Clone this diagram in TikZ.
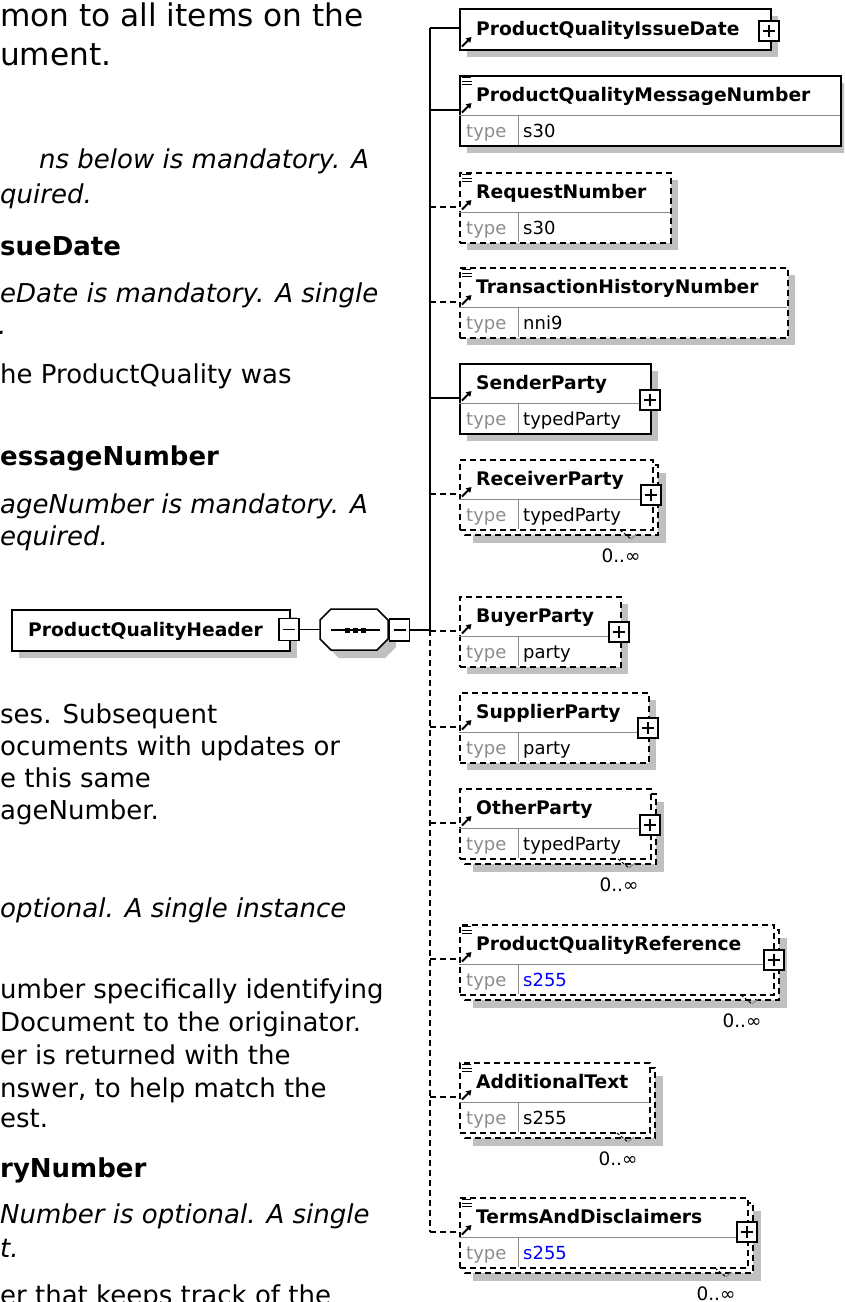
\documentclass[tikz,border=0pt]{standalone}
\usepackage{fontspec}
\setmainfont{DejaVu Sans}
\usetikzlibrary{arrows.meta}
\definecolor{shadowc}{HTML}{C0C0C0}
\definecolor{divc}{HTML}{8A8A8A}
\definecolor{typec}{HTML}{8C8C8C}
\definecolor{bluev}{HTML}{0000FF}
% core of an element box with a type row: #1 id, #2 right x, #3 top y, #4 border style, #5 name, #6 value, #7 list icon (1/0)
\newcommand\eltcore[7]{%
  \node[#4, anchor=north west, minimum width=#2-459, minimum height=70] (#1) at (459,#3) {};
  \draw[divline] (459,#3+40) -- (#2,#3+40);
  \draw[divline] (518,#3+40) -- (518,#3+70);
  \node[nametxt] (#1-n) at (476,#3+26) {#5};
  \node[typetxt] (#1-t) at (466,#3+62) {type};
  \node[valtxt] (#1-v) at (523,#3+62) {#6};
  \draw[refarrow] (462,#3+37.5) -- (471.5,#3+28);
  \ifnum#7=1 \draw[iconline] (462,#3+2.5) -- (471,#3+2.5) (462,#3+6) -- (472,#3+6) (462,#3+9.5) -- (472,#3+9.5);\fi
  \coordinate (#1-in) at (459,#3+35);
  \coordinate (#1-tr) at (430,#3+35);
}
\newcommand\elt[7]{%
  \fill[shadowc] (467,#3+8) rectangle (#2+8,#3+78);
  \eltcore{#1}{#2}{#3}{#4}{#5}{#6}{#7}%
}
\newcommand\eltm[7]{%
  \fill[shadowc] (473,#3+14) rectangle (#2+14,#3+84);
  \draw[#4] (465,#3+6) rectangle (#2+6,#3+76);
  \eltcore{#1}{#2}{#3}{#4}{#5}{#6}{#7}%
  \draw[line width=1pt, dash pattern=on 3pt off 2pt] (#2-32,#3+71) -- (#2-21,#3+80);
  \draw[divline] (#2-21,#3+80) -- (#2-15,#3+75);
  \node[occtxt] (#1-occ) at (#2-31,#3+103) {0..∞};
}
\newcommand\plusbox[3]{%
  \node[pbox] (#1) at (#2,#3) {};
  \draw[line width=1.2pt] (#2-6,#3) -- (#2+6,#3) (#2,#3-6) -- (#2,#3+6);
}
\newcommand\minusbox[3]{%
  \node[pbox, minimum height=22pt] (#1) at (#2,#3) {};
  \draw[line width=1.2pt] (#2-6,#3) -- (#2+6,#3);
}
\begin{document}
\begin{tikzpicture}[x=1pt,y=-1pt,
  solidb/.style={draw=black,line width=1.7pt,fill=white,inner sep=0pt},
  dashb/.style={draw=black,line width=1.5pt,fill=white,inner sep=0pt,dash pattern=on 6pt off 4pt},
  conn/.style={line width=1.5pt},
  dconn/.style={line width=1.4pt,dash pattern=on 6pt off 4pt},
  divline/.style={draw=divc,line width=1pt},
  nametxt/.style={anchor=base west,inner sep=0pt,font=\fontsize{18.7}{19}\selectfont\bfseries},
  typetxt/.style={anchor=base west,inner sep=0pt,font=\fontsize{18}{18}\selectfont,text=typec},
  valtxt/.style={anchor=base west,inner sep=0pt,font=\fontsize{18}{18}\selectfont},
  occtxt/.style={anchor=base,inner sep=0pt,font=\fontsize{18.5}{18}\selectfont},
  pbox/.style={draw=black,line width=1.4pt,fill=white,minimum width=20pt,minimum height=20pt,inner sep=0pt},
  refarrow/.style={line width=2pt,-{Triangle[length=5pt,width=6pt]}},
  iconline/.style={line width=1pt},
  doc/.style={anchor=base west,inner sep=0pt,font=\fontsize{26}{32}\selectfont},
  docbig/.style={anchor=base west,inner sep=0pt,font=\fontsize{31.2}{38}\selectfont},
  doci/.style={anchor=base west,inner sep=0pt,font=\fontsize{26}{32}\selectfont\itshape},
  docb/.style={anchor=base west,inner sep=0pt,font=\fontsize{26}{32}\selectfont\bfseries},
]
\useasboundingbox (0,0) rectangle (844,1302);
\clip (0,0) rectangle (844,1302);
\fill[white] (0,0) rectangle (844,1302);

% ---------------- left documentation text ----------------
\node[docbig] (t1) at (0,26) {mon to all items on the};
\node[docbig] (t2) at (0,65) {ument.};
\node[doci] (t3) at (39,168) {ns below is mandatory. A};
\node[doci] (t4) at (0,203) {quired.};
\node[docb] (t5) at (0,255) {sueDate};
\node[doci] (t6) at (0,302) {eDate is mandatory. A single};
\node[doci] (t7) at (-2,334) {.};
\node[doc] (t8) at (0,383) {he ProductQuality was};
\node[docb] (t9) at (0,465) {essageNumber};
\node[doci] (t10) at (0,513) {ageNumber is mandatory. A};
\node[doci] (t11) at (0,545) {equired.};
\node[doc] (t12) at (0,723) {ses. Subsequent};
\node[doc] (t13) at (0,755) {ocuments with updates or};
\node[doc] (t14) at (0,787) {e this same};
\node[doc] (t15) at (0,819) {ageNumber.};
\node[doci] (t16) at (0,917) {optional. A single instance};
\node[doc] (t17) at (0,998) {umber specifically identifying};
\node[doc] (t18) at (0,1031) {Document to the originator.};
\node[doc] (t19) at (0,1064) {er is returned with the};
\node[doc] (t20) at (0,1097) {nswer, to help match the};
\node[doc] (t21) at (0,1127) {est.};
\node[docb] (t22) at (0,1177) {ryNumber};
\node[doci] (t23) at (0,1223) {Number is optional. A single};
\node[doci] (t24) at (0,1257) {t.};
\node[doc] (t25) at (0,1304) {er that keeps track of the};

% ---------------- header and sequence ----------------
\fill[shadowc] (19,617) rectangle (297,658);
\node[solidb, anchor=north west, minimum width=278, minimum height=41] (hdr) at (11,609) {};
\node[nametxt] (hdr-n) at (28,636) {ProductQualityHeader};
\minusbox{hdrm}{289}{629.5}

\fill[shadowc] (339,617) -- (385,617) -- (396,628) -- (396,647) -- (385,658) -- (339,658) -- (328,647) -- (328,628) -- cycle;
\node[inner sep=0pt, minimum width=68, minimum height=41] (seq) at (354,629.5) {};
\draw[line width=1.5pt, fill=white] (331,609) -- (377,609) -- (388,620) -- (388,639) -- (377,650) -- (331,650) -- (320,639) -- (320,620) -- cycle;
\draw[line width=1.4pt] (331,630) -- (380,630);
\foreach \dx in {347,355,363} \fill (\dx-2.5,627.5) rectangle (\dx+2.5,632.5);
\minusbox{seqm}{399.5}{630}
\coordinate (trtop) at (430,28);
\coordinate (trj) at (430,630);
\coordinate (trbot) at (430,1232);
\draw[conn] (hdrm.east) -- (seq.west);
\draw[conn] (seqm.east) -- (trj);

% ---------------- child elements ----------------
% ProductQualityIssueDate (no type row)
\fill[shadowc] (467,16) rectangle (778,57);
\node[solidb, anchor=north west, minimum width=311, minimum height=41] (issue) at (459,8) {};
\node[nametxt] (issue-n) at (476,35) {ProductQualityIssueDate};
\draw[refarrow] (462,46.5) -- (471.5,37);
\coordinate (issue-in) at (459,28);
\plusbox{issuep}{769}{31}

\elt{msg}{840}{75}{solidb}{ProductQualityMessageNumber}{s30}{1}
\elt{req}{670}{172}{dashb}{RequestNumber}{s30}{1}
\elt{thn}{787}{267}{dashb}{TransactionHistoryNumber}{nni9}{1}
\elt{snd}{650}{363}{solidb}{SenderParty}{typedParty}{0}
\plusbox{sndp}{650}{400}
\eltm{rcv}{652}{459}{dashb}{ReceiverParty}{typedParty}{0}
\plusbox{rcvp}{651}{495}
\elt{buy}{620}{596}{dashb}{BuyerParty}{party}{0}
\plusbox{buyp}{619}{632}
\elt{sup}{648}{692}{dashb}{SupplierParty}{party}{0}
\plusbox{supp}{648}{728}
\eltm{oth}{650}{788}{dashb}{OtherParty}{typedParty}{0}
\plusbox{othp}{650}{825}
\eltm{pqr}{773}{924}{dashb}{ProductQualityReference}{\textcolor{bluev}{s255}}{1}
\plusbox{pqrp}{774}{960}
\eltm{add}{649}{1062}{dashb}{AdditionalText}{s255}{1}
\eltm{tad}{747}{1197}{dashb}{TermsAndDisclaimers}{\textcolor{bluev}{s255}}{1}
\plusbox{tadp}{747}{1232}

% ---------------- connectors ----------------
\draw[conn] (trtop) -- (trj);
\draw[dconn] (trj) -- (trbot);
\draw[conn] (trtop) -- (issue-in);
\draw[conn] (msg-tr) -- (msg-in);
\draw[dconn] (req-tr) -- (req-in);
\draw[dconn] (thn-tr) -- (thn-in);
\draw[conn] (snd-tr) -- (snd-in);
\draw[dconn] (rcv-tr) -- (rcv-in);
\draw[dconn] (buy-tr) -- (buy-in);
\draw[dconn] (sup-tr) -- (sup-in);
\draw[dconn] (oth-tr) -- (oth-in);
\draw[dconn] (pqr-tr) -- (pqr-in);
\draw[dconn] (add-tr) -- (add-in);
\draw[dconn] (tad-tr) -- (tad-in);
\end{tikzpicture}
\end{document}
